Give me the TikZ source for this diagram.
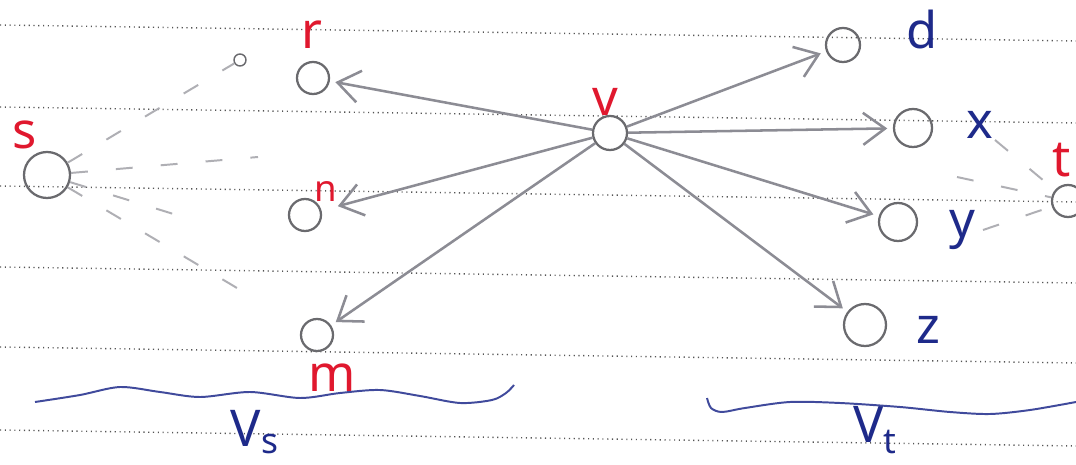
\documentclass[tikz,border=0pt]{standalone}
\usepackage{fontspec}
\setsansfont{Noto Sans}
\usetikzlibrary{arrows.meta}
\definecolor{sketchPencil}{HTML}{8C8C94}
\definecolor{sketchLead}{HTML}{6A6A6E}
\definecolor{sketchRed}{HTML}{E0182E}
\definecolor{sketchBlue}{HTML}{1E2A8A}
\definecolor{sketchRule}{HTML}{555555}

\begin{document}
\begin{tikzpicture}[
  x=0.025cm, y=-0.025cm,
  >={Straight Barb[length=5.5mm, width=8mm]},
  vertex/.style={circle, draw=sketchLead, line width=1.6pt, inner sep=0pt, minimum size=0.8cm},
  edge/.style={->, line width=1.8pt, draw=sketchPencil, shorten >=4pt},
  hint/.style={draw=sketchPencil!70, line width=1.4pt, dash pattern=on 12pt off 20pt},
  ruled/.style={draw=sketchRule, line width=1pt, dash pattern=on 0.8pt off 2.6pt},
  redtag/.style={text=sketchRed, font=\sffamily\fontsize{36}{40}\selectfont, inner sep=0pt},
  bluetag/.style={text=sketchBlue, font=\sffamily\fontsize{36}{40}\selectfont, inner sep=0pt},
  wave/.style={draw=sketchBlue!85, line width=1.4pt}
]
  \useasboundingbox (0,0) rectangle (1076,465);
  \fill[white] (0,0) rectangle (1076,465);

  % ruled paper
  \foreach \y in {25,107,186,267,347,430} {
    \draw[ruled] (0,\y) -- (1076,\y+16);
  }

  % vertices
  \node[vertex, minimum size=1.15cm] (s) at (47,175) {};
  \node[vertex, minimum size=0.3cm, line width=1pt] (tip) at (240,60) {};
  \node[vertex] (r) at (313,78) {};
  \node[vertex] (n) at (305,215) {};
  \node[vertex] (m) at (317,335) {};
  \node[vertex, minimum size=0.85cm] (v) at (610,133) {};
  \node[vertex, minimum size=0.85cm] (d) at (843,45) {};
  \node[vertex, minimum size=0.95cm] (x) at (913,128) {};
  \node[vertex, minimum size=0.95cm] (y) at (898,222) {};
  \node[vertex, minimum size=1.05cm] (z) at (865,325) {};
  \node[vertex] (t) at (1068,201) {};

  % labels
  \node[redtag] (sLabel) at (25,135) {s};
  \node[redtag] (rLabel) at (312,35) {r};
  \node[redtag, font=\sffamily\fontsize{26}{28}\selectfont] (nLabel) at (326,192) {n};
  \node[redtag] (mLabel) at (332,378) {m};
  \node[redtag] (vLabel) at (605,102) {v};
  \node[redtag] (tLabel) at (1062,160) {t};
  \node[bluetag] (dLabel) at (922,30) {d};
  \node[bluetag] (xLabel) at (980,125) {x};
  \node[bluetag] (yLabel) at (962,230) {y};
  \node[bluetag] (zLabel) at (928,330) {z};
  \node[bluetag] (vsLabel) at (255,432) {V\textsubscript{s}};
  \node[bluetag] (vtLabel) at (875,430) {V\textsubscript{t}};

  % out of v
  \foreach \w in {r,m,d,x,y,z} {
    \draw[edge] (v) -- (\w);
  }
  \draw[edge, shorten >=12pt] (v) -- (n);

  % dashed hints from s
  \coordinate (sMid) at (258,157);
  \coordinate (sLow) at (180,216);
  \coordinate (sBot) at (237,288);
  \draw[hint] (s) -- (tip);
  \draw[hint] (s) -- (sMid);
  \draw[hint] (s) -- (sLow);
  \draw[hint] (s) -- (sBot);

  % dashed hints into t
  \coordinate (tTop) at (995,140);
  \coordinate (tMid) at (957,177);
  \coordinate (tBot) at (983,230);
  \draw[hint] (tTop) -- (t);
  \draw[hint] (tMid) -- (t);
  \draw[hint] (tBot) -- (t);

  % underline waves
  \draw[wave] plot[smooth] coordinates {(35,402) (80,395) (120,387) (160,392) (200,397)
    (250,392) (300,398) (340,393) (380,390) (420,396) (460,403) (492,400) (506,393) (514,385)};
  \draw[wave] plot[smooth] coordinates {(707,398) (711,408) (722,412) (745,408) (790,402)
    (840,403) (900,407) (950,412) (990,414) (1030,410) (1076,402)};

\end{tikzpicture}
\end{document}
